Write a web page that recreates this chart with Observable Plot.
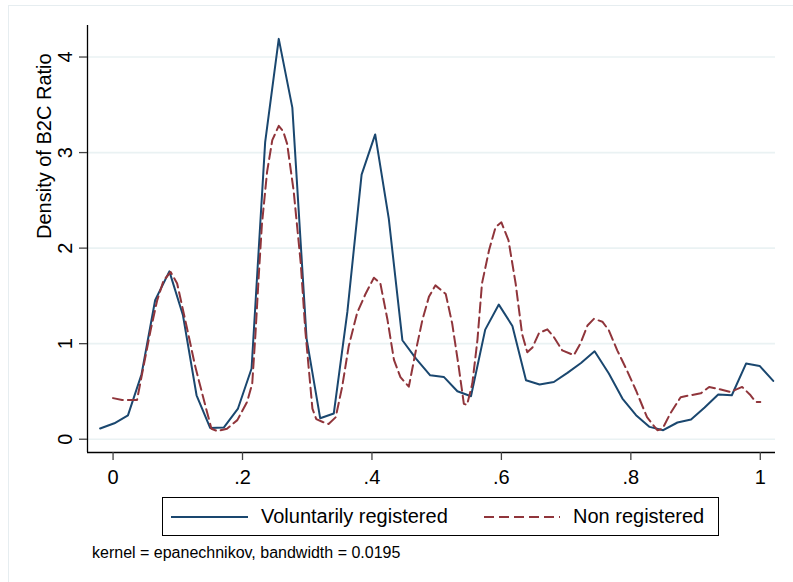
<!DOCTYPE html>
<html>
<head>
<meta charset="utf-8">
<script src="https://cdn.jsdelivr.net/npm/d3@7"></script>
<script src="https://cdn.jsdelivr.net/npm/@observablehq/plot@0.6"></script>
<style>
  html, body { margin: 0; padding: 0; background: #fff; overflow: hidden; }
  body { width: 793px; height: 582px; position: relative; font-family: "Liberation Sans", Arial, sans-serif; }
  #outer { position: absolute; left: 8px; top: 5px; width: 820px; height: 620px; border: 1.5px solid #e6edf0; box-sizing: border-box; }
  #chart { position: absolute; left: 0; top: 0; }
  #legend { position: absolute; left: 162px; top: 497px; width: 557px; height: 39px; border: 1px solid #000; box-sizing: border-box; background: #fff; }
  #legend .lbl { position: absolute; top: 6px; font-size: 20px; line-height: 24px; color: #000; white-space: nowrap; }
  #legend svg { position: absolute; left: 0; top: 0; }
  #caption { position: absolute; left: 92px; top: 543px; font-size: 16px; line-height: 20px; color: #000; white-space: nowrap; }
</style>
</head>
<body>
<div id="outer"></div>
<div id="chart"></div>
<div id="legend"></div>
<div id="caption"></div>
<script>
// ---- Data ----
const seriesNames = ["Voluntarily registered", "Non registered"];
const seriesColors = ["#1a476f", "#90353b"];

const blueX = [-0.020, 0.002, 0.023, 0.044, 0.065, 0.087, 0.108, 0.129, 0.150, 0.171,
               0.193, 0.214, 0.235, 0.256, 0.277, 0.299, 0.320, 0.341, 0.362, 0.384,
               0.405, 0.426, 0.447, 0.468, 0.490, 0.511, 0.532, 0.553, 0.575, 0.596,
               0.617, 0.638, 0.659, 0.681, 0.702, 0.723, 0.744, 0.766, 0.787, 0.808,
               0.829, 0.850, 0.872, 0.893, 0.914, 0.935, 0.956, 0.978, 0.999, 1.020];
const blueY = [0.112, 0.167, 0.250, 0.680, 1.454, 1.757, 1.297, 0.460, 0.118, 0.122,
               0.321, 0.740, 3.110, 4.190, 3.470, 1.053, 0.220, 0.269, 1.332, 2.769,
               3.190, 2.309, 1.036, 0.844, 0.669, 0.652, 0.502, 0.450, 1.147, 1.409,
               1.185, 0.617, 0.572, 0.599, 0.694, 0.798, 0.920, 0.687, 0.426, 0.251,
               0.129, 0.094, 0.175, 0.206, 0.332, 0.468, 0.460, 0.792, 0.767, 0.610];

const redX = [0.000, 0.014, 0.037, 0.047, 0.058, 0.068, 0.078, 0.089, 0.099, 0.114,
              0.127, 0.143, 0.152, 0.161, 0.176, 0.192, 0.207, 0.215, 0.220, 0.225,
              0.230, 0.238, 0.246, 0.256, 0.263, 0.269, 0.279, 0.290, 0.297, 0.308,
              0.314, 0.324, 0.333, 0.344, 0.354, 0.364, 0.377, 0.390, 0.403, 0.413,
              0.424, 0.434, 0.444, 0.457, 0.467, 0.478, 0.488, 0.498, 0.514, 0.524,
              0.534, 0.542, 0.547, 0.555, 0.563, 0.570, 0.581, 0.591, 0.600, 0.611,
              0.622, 0.632, 0.640, 0.648, 0.658, 0.671, 0.681, 0.694, 0.712, 0.722,
              0.733, 0.743, 0.756, 0.766, 0.779, 0.794, 0.808, 0.825, 0.841, 0.849,
              0.861, 0.877, 0.892, 0.908, 0.921, 0.939, 0.954, 0.972, 0.985, 0.993, 1.000];
const redY = [0.43, 0.41, 0.41, 0.76, 1.14, 1.45, 1.66, 1.75, 1.63, 1.17,
              0.76, 0.34, 0.11, 0.085, 0.11, 0.20, 0.39, 0.58, 1.10, 1.70,
              2.25, 2.80, 3.13, 3.28, 3.22, 3.09, 2.60, 1.84, 1.14, 0.32,
              0.21, 0.18, 0.16, 0.23, 0.55, 0.97, 1.32, 1.52, 1.69, 1.63,
              1.25, 0.83, 0.65, 0.55, 0.90, 1.25, 1.49, 1.61, 1.52, 1.21,
              0.76, 0.37, 0.36, 0.58, 1.04, 1.63, 1.98, 2.22, 2.27, 2.08,
              1.63, 1.10, 0.91, 0.96, 1.11, 1.15, 1.07, 0.93, 0.88, 1.00,
              1.19, 1.26, 1.23, 1.14, 0.93, 0.72, 0.51, 0.23, 0.094, 0.11,
              0.27, 0.44, 0.46, 0.48, 0.547, 0.52, 0.495, 0.547, 0.46, 0.39, 0.39];

const xTickValues = [0, 0.2, 0.4, 0.6, 0.8, 1];
const xTickLabels = ["0", ".2", ".4", ".6", ".8", "1"];
const yTickValues = [0, 1, 2, 3, 4];
const yTickLabels = ["0", "1", "2", "3", "4"];
const yTitle = "Density of B2C Ratio";
const captionText = "kernel = epanechnikov, bandwidth = 0.0195";

// ---- Build tables ----
const blue = blueX.map((x, i) => ({x, y: blueY[i]}));
const red = redX.map((x, i) => ({x, y: redY[i]}));

const xDomain = [-0.0395, 1.0235];
const yDomain = [-0.139, 4.33];

const chart = Plot.plot({
  width: 793,
  height: 495,
  marginLeft: 87,
  marginRight: 18,
  marginTop: 25,
  marginBottom: 43,
  style: {fontFamily: '"Liberation Sans", Arial, sans-serif', background: "transparent", overflow: "visible", color: "#000"},
  x: {domain: xDomain, axis: null},
  y: {domain: yDomain, axis: null},
  marks: [
    Plot.gridY(yTickValues, {stroke: "#eaf2f3", strokeOpacity: 1, strokeWidth: 1.6}),
    Plot.line(blue, {x: "x", y: "y", stroke: seriesColors[0], strokeWidth: 2}),
    Plot.line(red, {x: "x", y: "y", stroke: seriesColors[1], strokeWidth: 2, strokeDasharray: "10,5"}),
    Plot.ruleX([xDomain[0]], {stroke: "#000", strokeWidth: 1.3}),
    Plot.ruleY([yDomain[0]], {stroke: "#000", strokeWidth: 1.3}),
    Plot.axisX(xTickValues, {
      tickSize: 8, tickPadding: 9, fontSize: 20, stroke: "#444", strokeWidth: 1.3,
      tickFormat: d => xTickLabels[xTickValues.indexOf(d)], label: null
    }),
    Plot.axisY(yTickValues, {
      tickSize: 8, tickPadding: 8, tickRotate: -90, fontSize: 20, stroke: "#444", strokeWidth: 1.3,
      tickFormat: d => yTickLabels[yTickValues.indexOf(d)], label: null
    }),
    Plot.text([yTitle], {text: d => d, frameAnchor: "left", rotate: -90, dx: -37, lineAnchor: "bottom", fontSize: 20, fill: "#000"})
  ]
});
document.getElementById("chart").appendChild(chart);

// ---- Legend ----
const legend = document.getElementById("legend");
const lsvg = d3.create("svg").attr("width", 557).attr("height", 39);
const sampleX = [[8, 85], [321, 397]];
const labelX = [98, 410];
seriesNames.forEach((name, i) => {
  lsvg.append("line")
    .attr("x1", sampleX[i][0]).attr("x2", sampleX[i][1])
    .attr("y1", 19).attr("y2", 19)
    .attr("stroke", seriesColors[i]).attr("stroke-width", 2)
    .attr("stroke-dasharray", i === 1 ? "10,5" : null);
});
legend.appendChild(lsvg.node());
seriesNames.forEach((name, i) => {
  const d = document.createElement("div");
  d.className = "lbl";
  d.style.left = labelX[i] + "px";
  d.textContent = name;
  legend.appendChild(d);
});
document.getElementById("caption").textContent = captionText;
</script>
</body>
</html>
